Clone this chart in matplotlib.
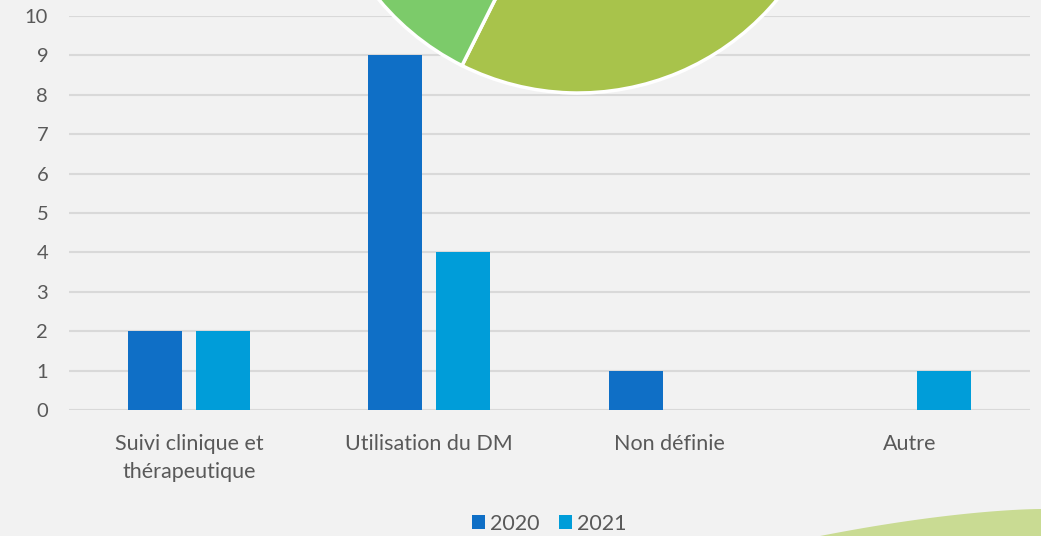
import numpy as np
import matplotlib.pyplot as plt
from matplotlib.patches import Polygon

plt.rcParams['font.family'] = ['Lato', 'DejaVu Sans']

# ================= données =================
categories = ['Suivi clinique et\nthérapeutique', 'Utilisation du DM', 'Non définie', 'Autre']
val_2020 = [2, 9, 1, 0]
val_2021 = [2, 4, 0, 1]
years = ['2020', '2021']

# camembert décoratif (partiellement hors cadre)
pie_values = [55, 15, 30]
pie_colors = ['#A8C34B', '#4DA84A', '#7CCB6A']

bg = '#F2F2F2'
c2020 = '#0F6FC6'
c2021 = '#009DD9'
txt = '#595959'

fig = plt.figure(figsize=(10.41, 5.36), dpi=100, facecolor=bg)

# ================= histogramme =================
ax = fig.add_axes([0.0663, 0.235, 0.9231, 0.735], facecolor=bg)
x = np.arange(len(categories))
w = 0.225
ax.bar(x - 0.1415, val_2020, width=w, color=c2020, label=years[0], zorder=3)
ax.bar(x + 0.1415, val_2021, width=w, color=c2021, label=years[1], zorder=3)
ax.set_xlim(-0.5, len(categories) - 0.5)
ax.set_ylim(0, 10)
ax.set_yticks(range(0, 11))
ax.set_xticks(x)
ax.set_xticklabels(categories, fontsize=15.5, color=txt, linespacing=1.55)
ax.tick_params(axis='y', labelsize=14.5, labelcolor=txt, length=0, pad=15)
ax.tick_params(axis='x', length=0, pad=17)
ax.grid(True, axis='y', color='#D9D9D9', linewidth=1.5, zorder=0)
ax.grid(False, axis='x')
for s in ax.spines.values():
    s.set_visible(False)

leg = ax.legend(loc='center', bbox_to_anchor=(0.5, -0.288), ncol=2, frameon=False,
                fontsize=15.5, handlelength=0.6, handleheight=0.6, handletextpad=0.25,
                columnspacing=0.9, borderpad=0)
for t in leg.get_texts():
    t.set_color(txt)

# ================= camembert en haut =================
axp = fig.add_axes([0.3064, 0.8265, 0.4976, 0.9664])
axp.pie(pie_values, colors=pie_colors, startangle=243.4, counterclock=True,
        wedgeprops=dict(edgecolor='white', linewidth=2.5))
axp.set_xlim(-1, 1)
axp.set_ylim(-1, 1)
axp.set_aspect('equal')
axp.axis('off')

# ================= vague verte en bas à droite =================
axd = fig.add_axes([0, 0, 1, 1], facecolor='none', zorder=0)
axd.set_xlim(0, 1041)
axd.set_ylim(536, 0)
axd.axis('off')
xs = np.linspace(815, 1041, 40)
t = (xs - 815) / 226
ys = 537 - 28 * (1 - (1 - t) ** 1.6)
pts = list(zip(xs, ys)) + [(1041, 536), (815, 536)]
axd.add_patch(Polygon(pts, closed=True, facecolor='#C9DB93', edgecolor='none'))

fig.savefig('out.png', dpi=100, facecolor=bg)
